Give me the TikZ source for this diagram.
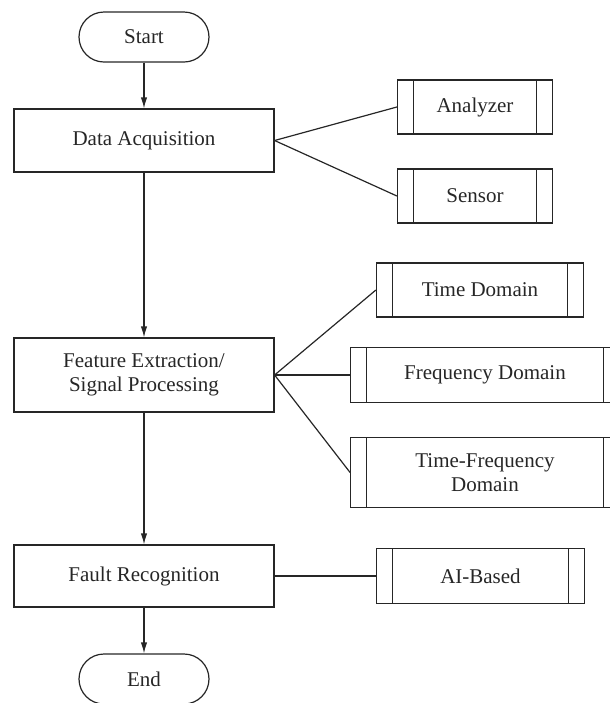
\documentclass[tikz,border=0pt]{standalone}
\usepackage{fontspec}
\setmainfont{Liberation Serif}
\usetikzlibrary{arrows.meta,calc}

\begin{document}
\begin{tikzpicture}[x=0.5pt, y=-0.5pt, >={Latex[width=3.2pt,length=5.5pt]}, line join=miter,
	font=\fontsize{10.5}{12}\selectfont, text=black!85]
	\tikzset{
		base/.style={draw=black!85, line width=0.6pt, inner sep=0pt, align=center},
		termbox/.style={base, rounded corners=12.5pt, minimum width=65pt, minimum height=25pt},
		procbox/.style={base, minimum width=130pt},
		subbox/.style={base, path picture={
				\draw[black!85, line width=0.6pt]
				([xshift=8pt]path picture bounding box.north west) -- ([xshift=8pt]path picture bounding box.south west)
				([xshift=-8pt]path picture bounding box.north east) -- ([xshift=-8pt]path picture bounding box.south east);
		}},
		flow/.style={draw=black!85, line width=0.6pt, ->},
		link/.style={draw=black!85, line width=0.6pt}
	}
	\useasboundingbox (0,0) rectangle (610,703);
	
	% --- main column ---
	\node[termbox] (start) at (144,37) {Start};
	\node[procbox, minimum height=31.5pt] (acq) at (144,140.5) {Data Acquisition};
	\node[procbox, minimum height=37pt] (feat) at (144,375) {Feature Extraction/\\Signal Processing};
	\node[procbox, minimum height=31pt] (fault) at (144,576) {Fault Recognition};
	\node[termbox] (stop) at (144,679) {End};
	
	\draw[flow] (start) -- (acq);
	\draw[flow] (acq) -- (feat);
	\draw[flow] (feat) -- (fault);
	\draw[flow] (fault) -- (stop);
	
	% --- acquisition sources ---
	\node[subbox, minimum width=77.5pt, minimum height=27pt] (analyzer) at (475,107) {Analyzer};
	\node[subbox, minimum width=77.5pt, minimum height=27pt] (sensor) at (475,196) {Sensor};
	\draw[link] (acq.east) -- (analyzer.west);
	\draw[link] (acq.east) -- (sensor.west);
	
	% --- processing methods ---
	\node[subbox, minimum width=103.5pt, minimum height=27pt] (timedom) at (480,290) {Time Domain};
	\node[subbox, minimum width=134.3pt, minimum height=27.5pt] (freqdom) at (485,375) {Frequency Domain};
	\node[subbox, minimum width=134.3pt, minimum height=35pt] (tfdom) at (485,472.5) {Time-Frequency\\Domain};
	\draw[link] (feat.east) -- (timedom.west);
	\draw[link] (feat.east) -- (freqdom.west);
	\draw[link] (feat.east) -- (tfdom.west);
	
	% --- recognition ---
	\node[subbox, minimum width=103.8pt, minimum height=27.5pt] (aibased) at (480.5,576) {AI-Based};
	\draw[link] (fault) -- (aibased);
	
\end{tikzpicture}
\end{document}
